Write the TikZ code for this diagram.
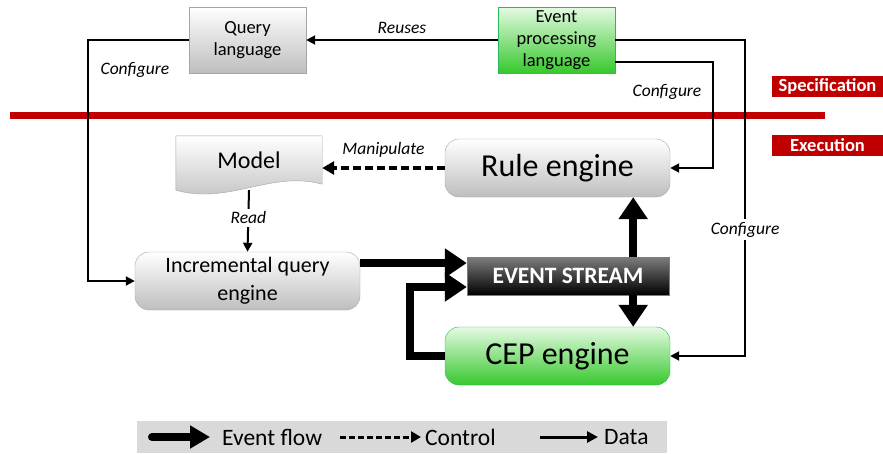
\documentclass[tikz,border=0pt]{standalone}
\usepackage{fontspec}
\setmainfont{Carlito}
\usetikzlibrary{arrows.meta,positioning,calc}
\definecolor{CPred}{RGB}{192,0,0}
\definecolor{CPgray}{RGB}{190,190,190}
\definecolor{CPline}{RGB}{165,165,165}
\definecolor{CPgreenlight}{RGB}{228,250,226}
\definecolor{CPgreen}{RGB}{55,200,45}
\definecolor{CPgreenline}{RGB}{40,185,90}
\definecolor{CPdark}{RGB}{125,125,125}
\definecolor{CPlegend}{RGB}{217,217,217}
\tikzset{
  lang/.style={draw=CPline,top color=white,bottom color=CPgray,minimum width=117,
               minimum height=66,align=center,inner sep=0pt,font=\fontsize{18.5}{22}\selectfont},
  greenfill/.style={draw=CPgreenline,top color=CPgreenlight,bottom color=CPgreen},
  engine/.style={rounded corners=14pt,draw=CPline,top color=white,bottom color=CPgray,
                 minimum width=225,minimum height=58,align=center,inner sep=0pt,
                 font=\fontsize{32}{34}\selectfont},
  stream/.style={draw=CPdark,top color=CPdark,bottom color=black,text=white,
                 minimum width=202,minimum height=38,inner sep=0pt,font=\bfseries\fontsize{23.5}{26}\selectfont},
  tag/.style={fill=CPred,text=white,minimum width=111,minimum height=21,inner sep=0pt,
              font=\bfseries\fontsize{18.5}{20}\selectfont},
  lbl/.style={font=\itshape\fontsize{17.5}{20}\selectfont,inner sep=1pt},
  legtext/.style={font=\fontsize{23.5}{26}\selectfont,anchor=west,inner sep=0pt},
  data/.style={-{Triangle[length=9pt,width=9pt]},line width=2pt},
  control/.style={-{Triangle[length=12pt,width=13pt]},line width=3.5pt,dash pattern=on 8pt off 4pt},
  eventflow/.style={-{Triangle[length=22pt,width=28pt]},line width=8pt},
}
\begin{document}
\begin{tikzpicture}[x=1pt,y=-1pt]
  \useasboundingbox (0,0) rectangle (883,453);
  % specification / execution border
  \draw[CPred,line width=7pt] (10,115) -- (825,115);
  \node[tag] (spec) at (827.5,86) {Specification};
  \node[tag] (exec) at (827.5,145) {Execution};
  % languages
  \node[lang] (ql) at (247.5,40) {Query\\language};
  \node[lang,greenfill] (epl) at (556.5,40) {Event\\processing\\language};
  % model document
  \node[minimum width=146,minimum height=48,inner sep=0pt] (model) at (249,160) {};
  \shade[draw=CPline,top color=white,bottom color=CPgray]
    (model.north west) -- (model.north east) -- (model.south east)
    .. controls +(-52,-14) and +(54,15) .. ([yshift=-6pt]model.south west) -- cycle;
  \node[font=\fontsize{24}{26}\selectfont] at (model.center) {Model};
  % engines
  \node[engine] (rule) at (557.5,168) {Rule engine};
  \node[engine,font=\fontsize{22}{28}\selectfont] (iqe) at (247.5,281) {Incremental query\\engine};
  \node[engine,greenfill] (cep) at (557.5,356) {CEP engine};
  \node[stream] (es) at (568,276) {EVENT STREAM};
  % data and control
  \draw[data] (epl.west) -- node[lbl,above=4pt] {Reuses} (ql.east);
  \draw[data] (ql.west) -- ++(-101,0) |- (iqe.west);
  \node[lbl] at (135,70) {Configure};
  \draw[data] ([yshift=-22pt]epl.east) -- ++(98,0) |- (rule.east);
  \node[lbl] at (667,92) {Configure};
  \draw[data] (epl.east) -- ++(130,0) |- node[pos=0.3,lbl,fill=white,inner sep=3pt] {Configure} (cep.east);
  \draw[data] ([yshift=-6pt]model.south) -- node[lbl,fill=white,inner sep=3pt,pos=0.45] {Read} (iqe.north);
  \draw[control] (rule.west) -- node[lbl,above=8pt] {Manipulate} ([yshift=-8pt]model.east);
  % event flow
  \draw[eventflow] ([yshift=13pt]es.west -| iqe.east) -- ([yshift=13pt]es.west);
  \draw[eventflow] (cep.west) -- ++(-35,0) |- ([yshift=-11pt]es.west);
  \draw[eventflow] ([xshift=-36pt]es.north east) -- ([xshift=-36pt]es.north east |- rule.south);
  \draw[eventflow] ([xshift=-36pt]es.south east) -- ([xshift=-36pt]es.south east |- cep.north);
  % legend
  \node[fill=CPlegend,minimum width=530,minimum height=32,inner sep=0pt] (legend) at (402,437) {};
  \coordinate (evA) at (152,437);
  \coordinate (evB) at (210,437);
  \coordinate (ctA) at (340,437);
  \coordinate (ctB) at (421,437);
  \coordinate (daA) at (540,437);
  \coordinate (daB) at (598,437);
  \draw[eventflow,-{Triangle[length=20pt,width=22pt]},line cap=round] (evA) -- (evB);
  \draw[control,line width=3pt,dash pattern=on 6pt off 3pt,-{Triangle[length=10pt,width=11pt]}] (ctA) -- (ctB);
  \draw[data,line width=3pt,-{Triangle[length=11pt,width=11pt]}] (daA) -- (daB);
  \node[legtext] (evt) at (222,437) {Event flow};
  \node[legtext] (ctt) at (425,437) {Control};
  \node[legtext] (dat) at (604,437) {Data};
\end{tikzpicture}
\end{document}
